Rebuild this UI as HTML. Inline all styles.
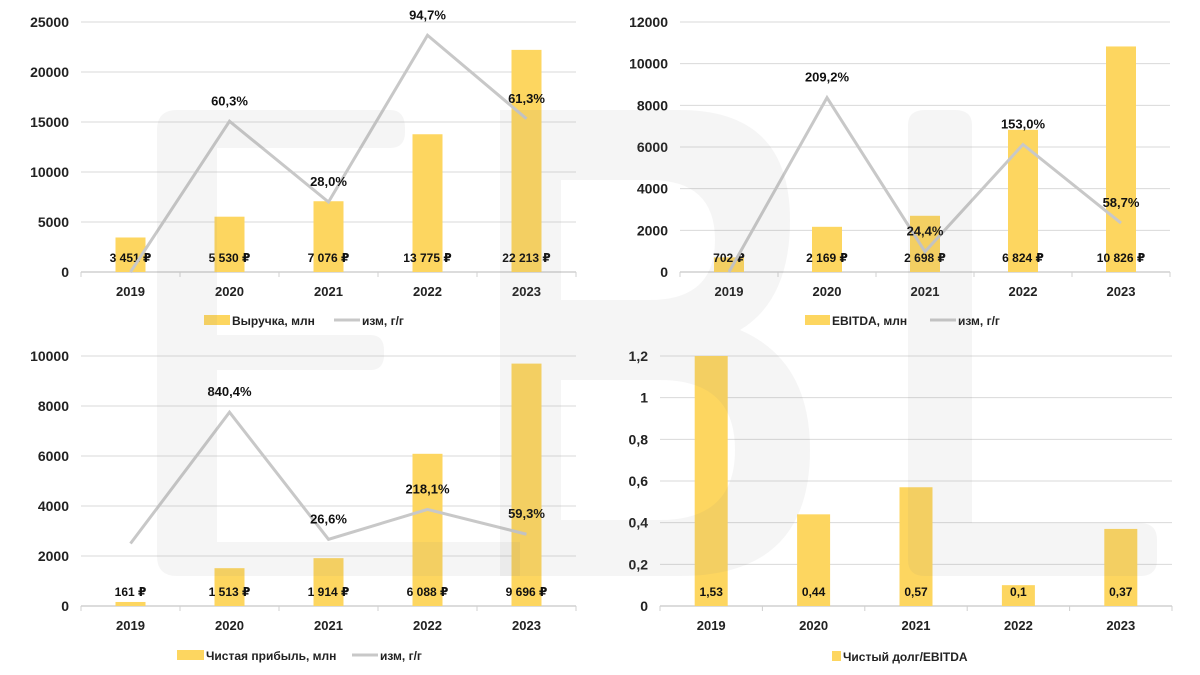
<!DOCTYPE html>
<html><head><meta charset="utf-8">
<style>
html,body{margin:0;padding:0;background:#fff;}
svg{display:block;font-family:"Liberation Sans Narrow","Liberation Sans","DejaVu Sans",sans-serif;font-weight:bold;}
</style></head>
<body>
<svg id="root" width="1200" height="675" viewBox="0 0 1200 675"></svg>
<script>
const years = ["2019","2020","2021","2022","2023"];
const revenue = [3451, 5530, 7076, 13775, 22213];
const revenueChange = [0, 60.3, 28.0, 94.7, 61.3];
const revenueTicks = [0, 5000, 10000, 15000, 20000, 25000];
const ebitda = [702, 2169, 2698, 6824, 10826];
const ebitdaChange = [0, 209.2, 24.4, 153.0, 58.7];
const ebitdaTicks = [0, 2000, 4000, 6000, 8000, 10000, 12000];
const profit = [161, 1513, 1914, 6088, 9696];
const profitChange = [0, 840.4, 26.6, 218.1, 59.3];
const profitTicks = [0, 2000, 4000, 6000, 8000, 10000];
const debtRatio = [1.53, 0.44, 0.57, 0.1, 0.37];
const debtTicks = [0, 0.2, 0.4, 0.6, 0.8, 1, 1.2];

const NS = "http://www.w3.org/2000/svg";
const root = document.getElementById("root");
function mk(tag, attrs, parent, text){
  const e = document.createElementNS(NS, tag);
  for (const k in attrs) e.setAttribute(k, attrs[k]);
  if (text !== undefined) e.textContent = text;
  (parent || root).appendChild(e);
  return e;
}
function fmtRub(v){ return String(v).replace(/\B(?=(\d{3})+(?!\d))/g, " ") + " ₽"; }
function fmtNum(v){ return String(v).replace(".", ","); }
function fmtPct(v){ return v.toFixed(1).replace(".", ",") + "%"; }

function chart(cfg){
  const g = mk("g", {});
  
  
  const x0 = cfg.x0, x1 = cfg.x1, yb = cfg.yb, yt = cfg.yt;
  const n = years.length, step = (x1 - x0) / n;
  const ymax = cfg.ticks[cfg.ticks.length - 1];
  const yScale = v => yb - (Math.min(v, ymax) / ymax) * (yb - yt);
  const xc = i => x0 + step * (i + 0.5);
  cfg.ticks.forEach(t => {
    const y = yScale(t);
    if (t !== 0) {
      const gl = mk("line", {x1:x0, x2:x1, y1:y, y2:y, stroke:"#d9d9d9", "stroke-width":1}, g);
      
      
    }
    const tl = mk("text", {x:x0 - 12, y:y + 5, "text-anchor":"end", "font-size":14, fill:"#222"}, g, cfg.tickFmt(t));
    
    
  });
  const ax = mk("line", {x1:x0, x2:x1, y1:yb, y2:yb, stroke:"#d0d0d0", "stroke-width":1.5}, g);
  
  
  for (let i = 0; i <= n; i++) {
    const tk = mk("line", {x1:x0 + step*i, x2:x0 + step*i, y1:yb, y2:yb + 5, stroke:"#d0d0d0"}, g);
    
    
  }
  cfg.values.forEach((v, i) => {
    const y = yScale(v);
    const b = mk("rect", {x:xc(i) - cfg.bw/2, y:y, width:cfg.bw, height:yb - y, fill:"#fdd660"}, g);
    
    
    const lab = mk("text", {x:xc(i), y:yb - 10, "text-anchor":"middle", "font-size":12, fill:"#111"}, g, cfg.valFmt(v));
    
    
    const xl = mk("text", {x:xc(i), y:yb + 24, "text-anchor":"middle", "font-size":13, fill:"#222"}, g, years[i]);
    
    
  });
  if (cfg.line) {
    const s = cfg.sec;
    const y2 = v => yb - (v - s[0]) / (s[1] - s[0]) * (yb - yt);
    const pts = cfg.line.map((v, i) => xc(i) + "," + y2(v)).join(" ");
    const pl = mk("polyline", {points:pts, fill:"none", stroke:"#c8c8c8", "stroke-width":3}, g);
    
    
    cfg.line.forEach((v, i) => {
      if (i === 0) return;
      const t = mk("text", {x:xc(i), y:y2(v) - 16, "text-anchor":"middle", "font-size":13, fill:"#111"}, g, fmtPct(v));
      
      
    });
  }
  const L = cfg.legend;
  const sw = mk("rect", {x:L.x, y:L.y - 6, width:L.sw, height:10, fill:"#fdd660"}, g);
  
  
  const lt = mk("text", {x:L.x + L.sw + 2, y:L.y + 4, "font-size":12, fill:"#222"}, g, cfg.barName);
  
  
  if (cfg.line) {
    const ll = mk("line", {x1:L.lx, x2:L.lx + 26, y1:L.y - 1, y2:L.y - 1, stroke:"#c8c8c8", "stroke-width":3}, g);
    
    
    const lt2 = mk("text", {x:L.lx + 28, y:L.y + 4, "font-size":12, fill:"#222"}, g, "изм, г/г");
    
    
  }
}

chart({name:"revenue-chart", x0:81, x1:576, yb:272, yt:22, bw:30, values:revenue, ticks:revenueTicks,
  tickFmt:t=>String(t), valFmt:fmtRub, line:revenueChange, sec:[0,100], barName:"Выручка, млн",
  legend:{x:204, y:321, sw:26, lx:334}});
chart({name:"ebitda-chart", x0:680, x1:1170, yb:272, yt:22, bw:30, values:ebitda, ticks:ebitdaTicks,
  tickFmt:t=>String(t), valFmt:fmtRub, line:ebitdaChange, sec:[0,300], barName:"EBITDA, млн",
  legend:{x:805, y:321, sw:25, lx:930}});
chart({name:"net-profit-chart", x0:81, x1:576, yb:606, yt:356, bw:30, values:profit, ticks:profitTicks,
  tickFmt:t=>String(t), valFmt:fmtRub, line:profitChange, sec:[-400,1200], barName:"Чистая прибыль, млн",
  legend:{x:177, y:656, sw:27, lx:352}});
chart({name:"net-debt-ebitda-chart", x0:660, x1:1172, yb:606, yt:356, bw:33, values:debtRatio, ticks:debtTicks,
  tickFmt:fmtNum, valFmt:fmtNum, line:null, barName:"Чистый долг/EBITDA",
  legend:{x:832, y:657, sw:9, lx:0}});

const wm = mk("g", {fill:"#808080", "fill-opacity":"0.08"});


const wE = mk("path", {d:"M157 130 Q157 110 177 110 L390 110 Q405 110 405 128 L405 132 Q405 148 390 148 L217 148 L217 335 L370 335 Q384 335 384 350 L384 355 Q384 370 370 370 L217 370 L217 542 L520 542 L520 576 L177 576 Q157 576 157 556 Z"}, wm);


const wB = mk("path", {"fill-rule":"evenodd", d:"M500 110 L680 110 Q790 110 790 220 Q790 300 740 330 Q810 360 810 450 Q810 576 680 576 L500 576 Z M561 180 L650 180 Q715 180 715 240 Q715 300 650 300 L561 300 Z M561 380 L660 380 Q735 380 735 450 Q735 520 660 520 L561 520 Z"}, wm);


const wL = mk("path", {d:"M908 125 Q908 110 925 110 L955 110 Q972 110 972 125 L972 523 L1140 523 Q1157 523 1157 540 L1157 560 Q1157 576 1140 576 L925 576 Q908 576 908 560 Z"}, wm);


</script>
</body></html>
